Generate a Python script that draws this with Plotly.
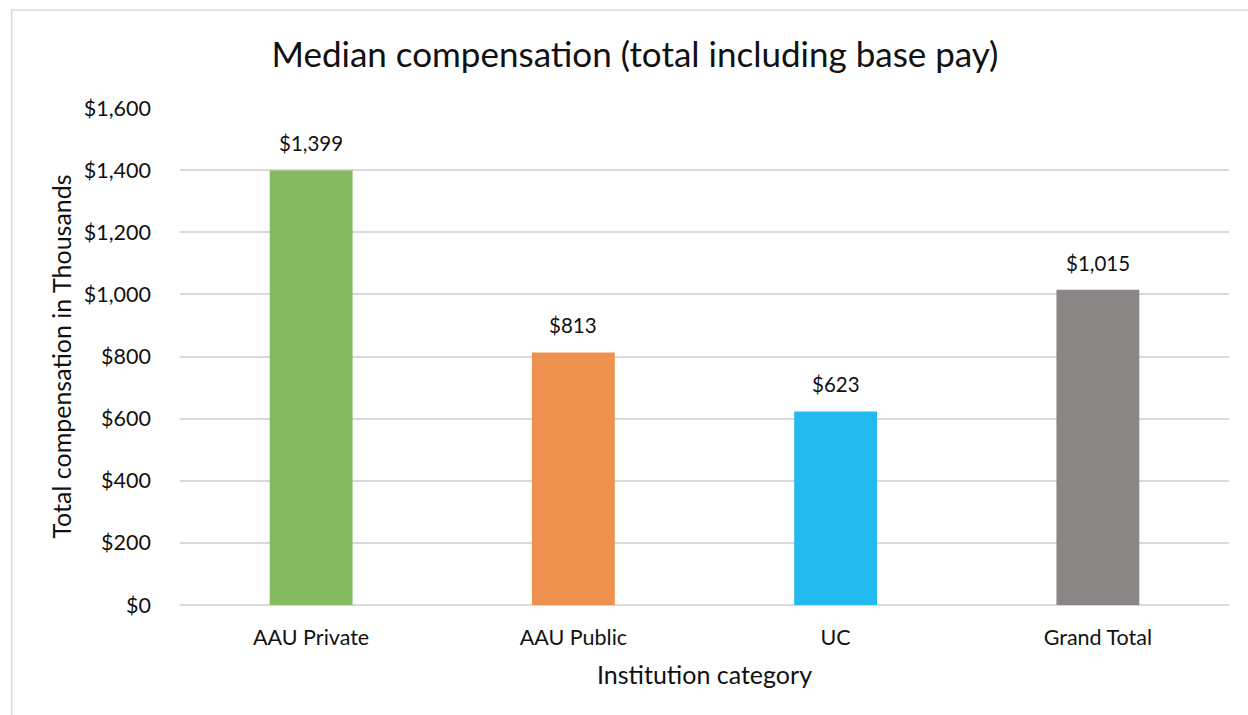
import plotly.graph_objects as go

categories = ["AAU Private", "AAU Public", "UC", "Grand Total"]
values = [1399, 813, 623, 1015]
bar_colors = ["#84BA60", "#EE914E", "#23BBEF", "#8A8685"]
tick_vals = [0, 200, 400, 600, 800, 1000, 1200, 1400, 1600]
tick_text = ["$0", "$200", "$400", "$600", "$800", "$1,000", "$1,200", "$1,400", "$1,600"]
value_labels = ["$1,399", "$813", "$623", "$1,015"]

FONT = "Lato, Open Sans, sans-serif"

fig = go.Figure()
fig.add_trace(go.Bar(x=categories, y=values, marker=dict(color=bar_colors, line=dict(width=0)),
                     hoverinfo="x+y"))

for c, v, t in zip(categories, values, value_labels):
    fig.add_annotation(x=c, y=v, text=t, showarrow=False, yanchor="bottom", yshift=13,
                       font=dict(family=FONT, size=20.5, color="#111111"))

L, R, T, B = 179.5, 18.5, 108, 110
W, H = 1248, 715
pw = W - L - R
ph = H - T - B

fig.add_shape(type="rect", xref="paper", yref="paper",
              x0=(11 - L) / pw, x1=(1260 - L) / pw,
              y0=(H - B - 730) / ph, y1=(H - B - 10) / ph,
              line=dict(color="#D9D9D9", width=1.5), fillcolor="rgba(0,0,0,0)", layer="below")

fig.update_layout(
    width=W, height=H,
    margin=dict(l=L, r=R, t=T, b=B),
    paper_bgcolor="white", plot_bgcolor="white",
    bargap=0.684,
    showlegend=False,
    title=dict(text="Median compensation (total including base pay)", x=635 / W, xanchor="center",
               y=1 - 55 / H, yanchor="middle",
               font=dict(family=FONT, size=35, color="#111111")),
    xaxis=dict(showgrid=False, showline=False, ticks="", zeroline=False,
               ticklabelstandoff=17,
               tickfont=dict(family=FONT, size=21.5, color="#111111"),
               title=dict(text="Institution category", standoff=17,
                          font=dict(family=FONT, size=25, color="#111111"))),
    yaxis=dict(range=[0, 1600], tickvals=tick_vals, ticktext=tick_text,
               showgrid=True, gridcolor="#D9D9D9", gridwidth=1.5,
               zeroline=True, zerolinecolor="#D9D9D9", zerolinewidth=1.5,
               showline=False, ticks="", ticklabelstandoff=28,
               tickfont=dict(family=FONT, size=21.5, color="#111111"),
               title=dict(text="Total compensation in Thousands", standoff=5,
                          font=dict(family=FONT, size=25, color="#111111"))),
)

fig.write_html("out.html", config={"displayModeBar": False},
               post_script="document.body.style.margin='0';document.body.style.overflow='hidden';")
